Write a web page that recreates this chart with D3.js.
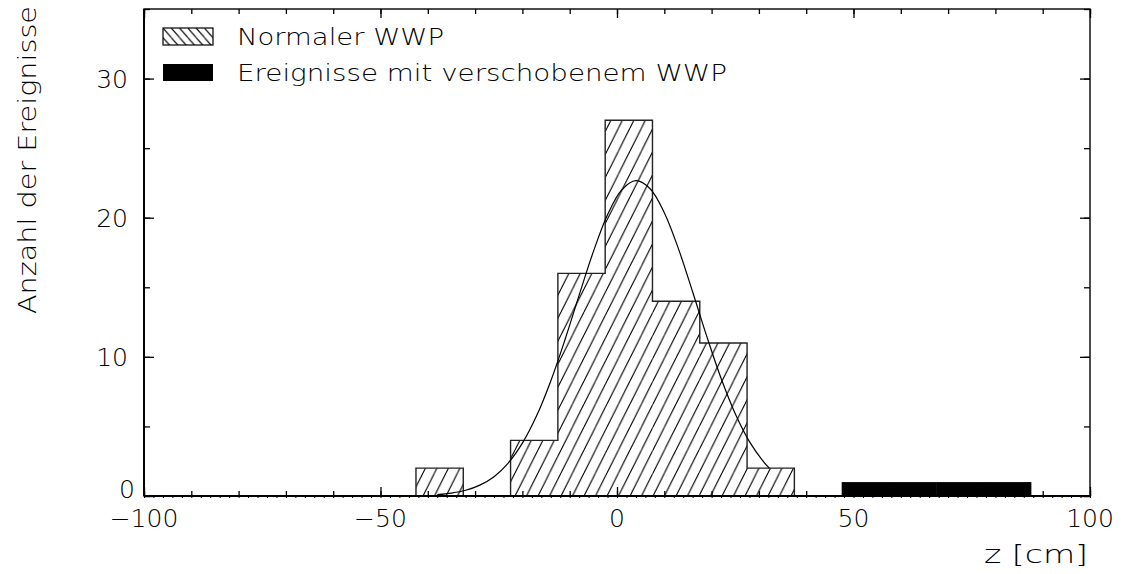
<!DOCTYPE html>
<html>
<head>
<meta charset="utf-8">
<script src="https://cdn.jsdelivr.net/npm/d3@7"></script>
<style>
  html, body { margin: 0; padding: 0; background: #fff; }
  svg text { font-family: "DejaVu Sans", sans-serif; font-weight: 200; fill: #000; }
</style>
</head>
<body>
<svg id="chart" width="1124" height="574"></svg>
<script>
// ---------- data ----------
const binWidth = 10;
const normalBinStart = [-42.5, -32.5, -22.5, -12.5, -2.5, 7.5, 17.5, 27.5];
const normalCounts   = [2, 0, 4, 16, 27, 14, 11, 2];
const shiftedBinStart = [47.5, 57.5, 67.5, 77.5];
const shiftedCounts   = [1, 1, 1, 1];
// fitted curve
const fitZ     = [-38, -35, -32, -29, -26, -23, -20, -17, -14, -11, -8, -5, -2, 1, 4, 7, 10, 13, 16, 19, 22, 25, 28, 31, 32.2];
const fitCount = [0.1, 0.21, 0.41, 0.78, 1.39, 2.37, 3.8, 5.76, 8.27, 11.23, 14.44, 17.56, 20.21, 22.0, 22.66, 22.08, 20.36, 17.76, 14.66, 11.45, 8.46, 5.91, 3.91, 2.45, 2.0];
const xTickLabels = [-100, -50, 0, 50, 100];
const yTickLabels = [0, 10, 20, 30];
const legendLabels = ["Normaler WWP", "Ereignisse mit verschobenem WWP"];
const xTitle = "z [cm]";
const yTitle = "Anzahl der Ereignisse";

// ---------- layout ----------
const L = 144, R = 1090, T = 9, B = 496;
const svg = d3.select("#chart");
const x = d3.scaleLinear().domain([-100, 100]).range([L, R]);
const y = d3.scaleLinear().domain([0, 35]).range([B, T]);

const defs = svg.append("defs");
// histogram hatch "/"
const hw = 11.5, hh = 23;
const pat = defs.append("pattern").attr("id", "hatch").attr("patternUnits", "userSpaceOnUse")
  .attr("width", hw).attr("height", hh).attr("x", L + 3).attr("y", B);
pat.append("path").attr("d", `M0,${hh} L${hw},0 M${-hw},${hh} L0,0 M${hw},${hh} L${2*hw},0`)
  .attr("stroke", "#000").attr("stroke-width", 1.1).attr("fill", "none");
// legend hatch "\"
const lw = 8.3, lh = 9.6;
const pat2 = defs.append("pattern").attr("id", "hatch2").attr("patternUnits", "userSpaceOnUse")
  .attr("width", lw).attr("height", lh).attr("x", 163).attr("y", 28);
pat2.append("path").attr("d", `M0,0 L${lw},${lh} M${-lw},0 L0,${lh} M${lw},0 L${2*lw},${lh}`)
  .attr("stroke", "#000").attr("stroke-width", 1.1).attr("fill", "none");

// ---------- histogram fill ----------
const normalBins = normalBinStart.map((s, i) => ({ x0: s, x1: s + binWidth, v: normalCounts[i] }));
svg.append("g").selectAll("rect").data(normalBins.filter(d => d.v > 0)).join("rect")
  .attr("x", d => x(d.x0)).attr("width", d => x(d.x1) - x(d.x0))
  .attr("y", d => y(d.v)).attr("height", d => y(0) - y(d.v))
  .attr("fill", "url(#hatch)");

// outline (step)
const pts = [[normalBins[0].x0, 0]];
normalBins.forEach(d => { pts.push([d.x0, d.v]); pts.push([d.x1, d.v]); });
pts.push([normalBins[normalBins.length - 1].x1, 0]);
svg.append("path").datum(pts)
  .attr("d", d3.line().x(d => x(d[0])).y(d => y(d[1])))
  .attr("fill", "none").attr("stroke", "#222").attr("stroke-width", 1.4);

// shifted events (black)
const shiftedBins = shiftedBinStart.map((s, i) => ({ x0: s, x1: s + binWidth, v: shiftedCounts[i] }));
svg.append("g").selectAll("rect").data(shiftedBins).join("rect")
  .attr("x", d => x(d.x0)).attr("width", d => x(d.x1) - x(d.x0) + 0.5)
  .attr("y", d => y(d.v)).attr("height", d => y(0) - y(d.v))
  .attr("fill", "#000");

// fit curve
svg.append("path").datum(fitZ.map((z, i) => [z, fitCount[i]]))
  .attr("d", d3.line().x(d => x(d[0])).y(d => y(d[1])).curve(d3.curveCatmullRom))
  .attr("fill", "none").attr("stroke", "#000").attr("stroke-width", 1.2);

// ---------- axes ----------
function styleAxis(g) {
  g.select(".domain").remove();
  g.selectAll(".tick line").attr("stroke", "#000").attr("stroke-width", 1.3);
  g.selectAll("text").remove();
}
const xTiny = d3.range(-100, 101, 2), x10 = d3.range(-100, 101, 10), x50 = d3.range(-100, 101, 50);
svg.append("g").attr("transform", `translate(0,${B})`)
  .call(d3.axisBottom(x).tickValues(xTiny).tickSize(2)).call(styleAxis)
  .selectAll(".tick line").attr("stroke-width", 1);
svg.append("g").attr("transform", `translate(0,${B})`)
  .call(d3.axisBottom(x).tickValues(x10).tickSize(-5)).call(styleAxis);
svg.append("g").attr("transform", `translate(0,${B})`)
  .call(d3.axisBottom(x).tickValues(x50).tickSize(-9)).call(styleAxis);
svg.append("g").attr("transform", `translate(0,${T})`)
  .call(d3.axisTop(x).tickValues(x10).tickSize(-5)).call(styleAxis);
svg.append("g").attr("transform", `translate(0,${T})`)
  .call(d3.axisTop(x).tickValues(x50).tickSize(-9)).call(styleAxis);

const y5 = d3.range(0, 36, 5), y10 = d3.range(0, 36, 10);
[[L, d3.axisLeft], [R, d3.axisRight]].forEach(([px, ax]) => {
  svg.append("g").attr("transform", `translate(${px},0)`)
    .call(ax(y).tickValues(y5).tickSize(-6)).call(styleAxis);
  svg.append("g").attr("transform", `translate(${px},0)`)
    .call(ax(y).tickValues(y10).tickSize(-10)).call(styleAxis);
});

// frame
svg.append("rect").attr("x", L).attr("y", T).attr("width", R - L).attr("height", B - T)
  .attr("fill", "none").attr("stroke", "#000").attr("stroke-width", 1.4);
svg.append("line").attr("x1", L).attr("x2", R).attr("y1", B).attr("y2", B)
  .attr("stroke", "#000").attr("stroke-width", 2.2);
svg.append("line").attr("x1", L).attr("x2", L).attr("y1", T).attr("y2", B)
  .attr("stroke", "#000").attr("stroke-width", 2);

// tick labels
svg.append("g").selectAll("text").data(xTickLabels).join("text")
  .attr("x", d => x(d)).attr("y", 527).attr("text-anchor", "middle")
  .style("font-size", "25px")
  .text(d => d < 0 ? "\u2212" + Math.abs(d) : String(d));
svg.append("g").selectAll("text").data(yTickLabels).join("text")
  .attr("x", d => d === 0 ? 135 : 128).attr("y", d => y(d) + (d === 0 ? 2 : 9))
  .attr("text-anchor", "end").style("font-size", "25px")
  .text(d => String(d));

// axis titles
svg.append("text").attr("x", 1088).attr("y", 563).attr("text-anchor", "end")
  .style("font-size", "25px").attr("textLength", 104).attr("lengthAdjust", "spacingAndGlyphs")
  .text(xTitle);
svg.append("text").attr("transform", "translate(36,160) rotate(-90)").attr("text-anchor", "middle")
  .style("font-size", "25px").attr("textLength", 308).attr("lengthAdjust", "spacingAndGlyphs")
  .text(yTitle);

// legend
svg.append("rect").attr("x", 163).attr("y", 28).attr("width", 50).attr("height", 17)
  .attr("fill", "url(#hatch2)").attr("stroke", "#000").attr("stroke-width", 1.2);
svg.append("rect").attr("x", 163).attr("y", 64).attr("width", 50).attr("height", 17)
  .attr("fill", "#000");
svg.append("text").attr("x", 237).attr("y", 45).style("font-size", "23px")
  .attr("textLength", 207).attr("lengthAdjust", "spacingAndGlyphs").text(legendLabels[0]);
svg.append("text").attr("x", 237).attr("y", 81).style("font-size", "23px")
  .attr("textLength", 490).attr("lengthAdjust", "spacingAndGlyphs").text(legendLabels[1]);
</script>
</body>
</html>
